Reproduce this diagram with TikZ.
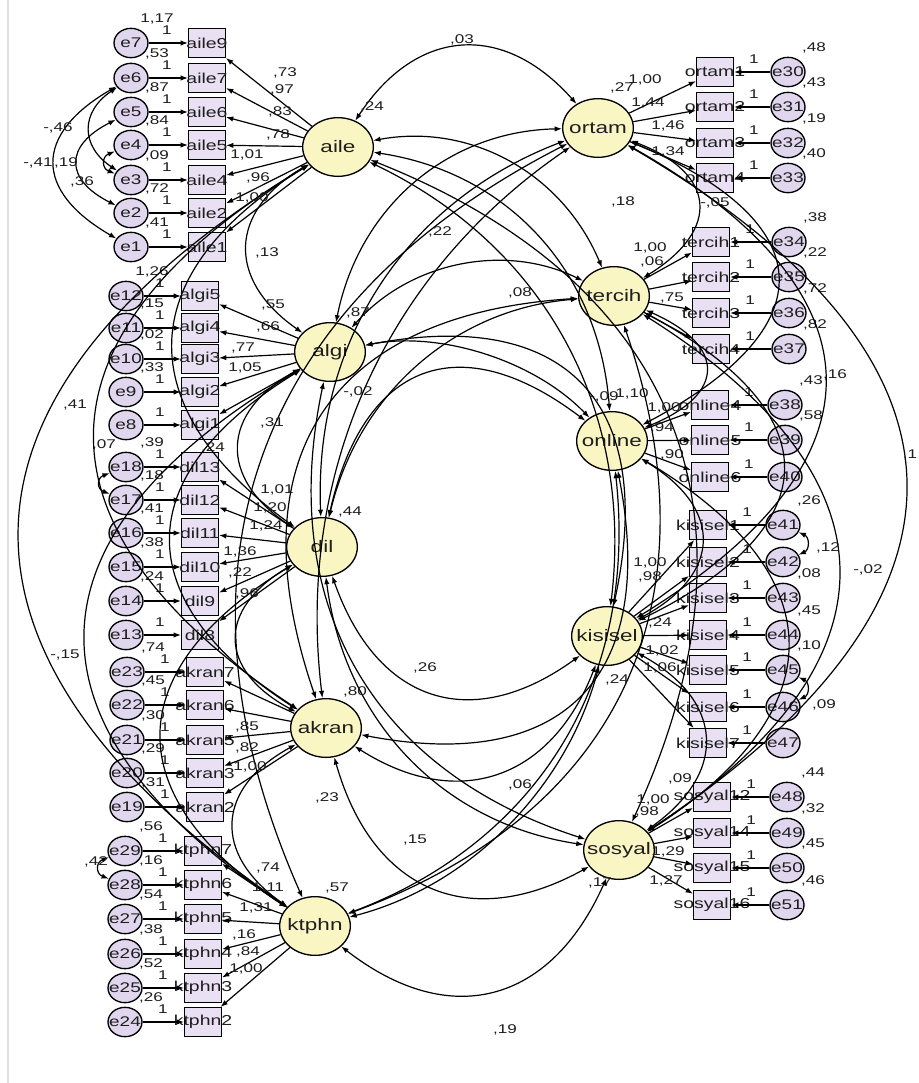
\documentclass[tikz,border=0pt]{standalone}
\usepackage{fontspec}
\setmainfont{Liberation Sans}
\newfontfamily\widesans[FakeStretch=1.35]{Liberation Sans}
\usetikzlibrary{shapes.geometric,arrows.meta,calc}
\definecolor{latfill}{RGB}{250,246,196}
\definecolor{obsfill}{RGB}{233,225,243}
\definecolor{errfill}{RGB}{224,214,238}
\definecolor{txt}{RGB}{30,30,30}
\newcommand\latfont{\widesans\fontsize{12.5}{13}\selectfont}
\newcommand\obsfont{\widesans\fontsize{10.8}{11}\selectfont}
\newcommand\errfont{\widesans\fontsize{10.5}{11}\selectfont}
\newcommand\estfont{\widesans\fontsize{9.5}{10}\selectfont}

% indicator on the left: error, box, y, x of error, x of box, error variance, latent
\newcommand\lind[7]{%
  \node[obs,label={[obslab]center:#2}] (#2) at (#5,#3) {};
  \node[err,label={[errlab]center:#1}] (#1) at (#4,#3) {};
  \draw[reg] (#1) -- (#2);
  \draw[reg] (#7) -- (#2);
  \node[est] at (#5-40,#3-13) {1};
  \node[est] at (#4+26,#3-24) {#6};
}
% indicator on the right
\newcommand\rind[7]{%
  \node[obs,label={[obslab]center:#2}] (#2) at (#5,#3) {};
  \node[err,label={[errlab]center:#1}] (#1) at (#4,#3) {};
  \draw[reg] (#1) -- (#2);
  \draw[reg] (#7) -- (#2);
  \node[est] at (#5+39,#3-13) {1};
  \node[est] at (#4+26,#3-24) {#6};
}
% covariance arc: from, to, bulge, side (90 = left of travel, -90 = right)
\newcommand\cv[4]{%
  \draw[cov] (#1) .. controls ($(#1)!1/3!(#2)!#3!#4:(#2)$) and ($(#1)!2/3!(#2)!#3!#4:(#2)$) .. (#2);
}

\begin{document}
\begin{tikzpicture}[x=0.75pt,y=-0.75pt,
  lat/.style={ellipse,draw,fill=latfill,minimum width=53pt,minimum height=44pt,inner sep=0pt,line width=1pt},
  obs/.style={rectangle,draw,fill=obsfill,minimum width=27.5pt,minimum height=21.5pt,inner sep=0pt,line width=1pt},
  err/.style={ellipse,draw,fill=errfill,minimum width=25.5pt,minimum height=22pt,inner sep=0pt,line width=1pt},
  latlab/.style={font=\latfont,text=txt,inner sep=0pt},
  obslab/.style={font=\obsfont,text=txt,inner sep=0pt},
  errlab/.style={font=\errfont,text=txt,inner sep=0pt},
  est/.style={font=\estfont,text=txt,inner sep=0pt},
  reg/.style={-{Latex[length=5.5pt,width=4pt]},line width=0.9pt},
  cov/.style={{Latex[length=5.5pt,width=4pt]}-{Latex[length=5.5pt,width=4pt]},line width=0.9pt}]

\fill[white] (0,0) rectangle (919,1083);
\useasboundingbox (0,0) rectangle (919,1083);
\draw[black!12,line width=0.8pt] (8,0) -- (8,1083);

% latent factors
\node[lat,label={[latlab]center:aile}]    (aile)    at (338,147) {};
\node[lat,label={[latlab]center:algi}]    (algi)    at (330,352) {};
\node[lat,label={[latlab]center:dil}]     (dil)     at (322,547) {};
\node[lat,label={[latlab]center:akran}]   (akran)   at (326,728) {};
\node[lat,label={[latlab]center:ktphn}]   (ktphn)   at (315,926) {};
\node[lat,label={[latlab]center:ortam}]   (ortam)   at (598,128) {};
\node[lat,label={[latlab]center:tercih}]  (tercih)  at (614,296) {};
\node[lat,label={[latlab]center:online}]  (online)  at (612,441) {};
\node[lat,label={[latlab]center:kisisel}] (kisisel) at (607,636) {};
\node[lat,label={[latlab]center:sosyal}]  (sosyal)  at (619,850) {};

% left indicators
\lind{e7}{aile9}{43}{131}{207}{1,17}{aile}
\lind{e6}{aile7}{78}{131}{207}{,53}{aile}
\lind{e5}{aile6}{112}{131}{207}{,87}{aile}
\lind{e4}{aile5}{145}{131}{207}{,84}{aile}
\lind{e3}{aile4}{180}{131}{207}{,09}{aile}
\lind{e2}{aile2}{213}{131}{207}{,72}{aile}
\lind{e1}{aile1}{247}{131}{207}{,41}{aile}

\lind{e12}{algi5}{296}{126}{200}{1,26}{algi}
\lind{e11}{algi4}{328}{126}{200}{,15}{algi}
\lind{e10}{algi3}{359}{126}{200}{,02}{algi}
\lind{e9}{algi2}{392}{126}{200}{,33}{algi}
\lind{e8}{algi1}{425}{126}{200}{}{algi}

\lind{e18}{dil13}{467}{126}{200}{,39}{dil}
\lind{e17}{dil12}{500}{126}{200}{,18}{dil}
\lind{e16}{dil11}{533}{126}{200}{,41}{dil}
\lind{e15}{dil10}{567}{126}{200}{,38}{dil}
\lind{e14}{dil9}{601}{126}{200}{,24}{dil}
\lind{e13}{dil8}{635}{126}{200}{}{dil}

\lind{e23}{akran7}{672}{127}{205}{,74}{akran}
\lind{e22}{akran6}{705}{127}{205}{,45}{akran}
\lind{e21}{akran5}{740}{127}{205}{,30}{akran}
\lind{e20}{akran3}{773}{127}{205}{,29}{akran}
\lind{e19}{akran2}{807}{127}{205}{,31}{akran}

\lind{e29}{ktphn7}{851}{125}{203}{,56}{ktphn}
\lind{e28}{ktphn6}{885}{125}{203}{,16}{ktphn}
\lind{e27}{ktphn5}{919}{125}{203}{,54}{ktphn}
\lind{e26}{ktphn4}{954}{125}{203}{,38}{ktphn}
\lind{e25}{ktphn3}{988}{125}{203}{,52}{ktphn}
\lind{e24}{ktphn2}{1022}{125}{203}{,26}{ktphn}

% right indicators
\rind{e30}{ortam1}{72}{788}{715}{,48}{ortam}
\rind{e31}{ortam2}{107}{788}{715}{,43}{ortam}
\rind{e32}{ortam3}{143}{788}{715}{,19}{ortam}
\rind{e33}{ortam4}{178}{788}{715}{,40}{ortam}

\rind{e34}{tercih1}{242}{789}{711}{,38}{tercih}
\rind{e35}{tercih2}{277}{789}{711}{,22}{tercih}
\rind{e36}{tercih3}{313}{789}{711}{,72}{tercih}
\rind{e37}{tercih4}{349}{789}{711}{,82}{tercih}

\rind{e38}{online4}{405}{785}{710}{,43}{online}
\rind{e39}{online5}{440}{785}{710}{,58}{online}
\rind{e40}{online6}{477}{785}{710}{}{online}

\rind{e41}{kisisel1}{525}{783}{708}{,26}{kisisel}
\rind{e42}{kisisel2}{562}{783}{708}{}{kisisel}
\rind{e43}{kisisel3}{598}{783}{708}{,08}{kisisel}
\rind{e44}{kisisel4}{635}{783}{708}{,45}{kisisel}
\rind{e45}{kisisel5}{670}{783}{708}{,10}{kisisel}
\rind{e46}{kisisel6}{707}{783}{708}{}{kisisel}
\rind{e47}{kisisel7}{743}{783}{708}{}{kisisel}

\rind{e48}{sosyal12}{797}{787}{712}{,44}{sosyal}
\rind{e49}{sosyal14}{833}{787}{712}{,32}{sosyal}
\rind{e50}{sosyal15}{868}{787}{712}{,45}{sosyal}
\rind{e51}{sosyal16}{905}{787}{712}{,46}{sosyal}

% error covariances
\cv{e6}{e1}{73pt}{-90}
\cv{e5}{e2}{50pt}{-90}
\cv{e6}{e3}{38pt}{-90}
\cv{e4}{e3}{22pt}{-90}
\cv{e18}{e17}{22pt}{-90}
\cv{e29}{e28}{22pt}{-90}
\cv{e41}{e42}{20pt}{90}
\cv{e45}{e46}{20pt}{90}

% factor covariances, left column
\cv{aile}{algi}{80pt}{-90}
\cv{algi}{dil}{80pt}{-90}
\cv{dil}{akran}{80pt}{-90}
\cv{akran}{ktphn}{80pt}{-90}
\cv{aile}{dil}{150pt}{-90}
\cv{algi}{akran}{150pt}{-90}
\cv{dil}{ktphn}{150pt}{-90}
\cv{aile}{akran}{230pt}{-90}
\cv{algi}{ktphn}{230pt}{-90}
\cv{aile}{ktphn}{300pt}{-90}

% factor covariances, right column
\cv{ortam}{tercih}{85pt}{90}
\cv{tercih}{online}{85pt}{90}
\cv{online}{kisisel}{85pt}{90}
\cv{kisisel}{sosyal}{85pt}{90}
\cv{ortam}{online}{165pt}{90}
\cv{tercih}{kisisel}{165pt}{90}
\cv{online}{sosyal}{165pt}{90}
\cv{ortam}{kisisel}{215pt}{90}
\cv{tercih}{sosyal}{215pt}{90}
\cv{ortam}{sosyal}{290pt}{90}

% factor covariances across
\cv{aile}{ortam}{85pt}{90}
\cv{aile}{tercih}{63pt}{90}
\cv{aile}{online}{80pt}{90}
\cv{aile}{kisisel}{100pt}{90}
\cv{aile}{sosyal}{200pt}{90}
\cv{algi}{ortam}{70pt}{90}
\cv{algi}{tercih}{55pt}{90}
\cv{algi}{online}{40pt}{90}
\cv{algi}{kisisel}{150pt}{90}
\cv{algi}{sosyal}{130pt}{-90}
\cv{dil}{ortam}{90pt}{90}
\cv{dil}{tercih}{70pt}{90}
\cv{dil}{online}{120pt}{90}
\cv{dil}{kisisel}{100pt}{-90}
\cv{dil}{sosyal}{80pt}{-90}
\cv{akran}{ortam}{100pt}{90}
\cv{akran}{tercih}{170pt}{90}
\cv{akran}{online}{150pt}{-90}
\cv{akran}{kisisel}{90pt}{-90}
\cv{akran}{sosyal}{100pt}{-90}
\cv{ktphn}{ortam}{200pt}{90}
\cv{ktphn}{tercih}{170pt}{-90}
\cv{ktphn}{online}{110pt}{-90}
\cv{ktphn}{kisisel}{60pt}{-90}
\cv{ktphn}{sosyal}{100pt}{-90}

% estimates
\foreach \x/\y/\t in {
  285/73/{,73}, 282/90/{,97}, 280/112/{,83}, 278/135/{,78}, 247/155/{1,01},
  258/178/{,96}, 252/198/{1,00}, 267/253/{,13}, 273/305/{,55}, 268/327/{,66},
  243/348/{,77}, 245/368/{1,05}, 272/423/{,31}, 213/448/{,24}, 277/490/{1,01},
  270/508/{1,20}, 266/526/{1,24}, 240/552/{1,36}, 240/573/{,22}, 247/594/{,96},
  247/727/{,85}, 247/748/{,82}, 250/767/{1,00}, 327/798/{,23}, 268/868/{,74},
  268/888/{1,11}, 256/908/{1,31}, 244/935/{,16}, 248/952/{,84}, 246/969/{1,00},
  462/40/{,03}, 372/107/{,24}, 622/88/{,27}, 358/313/{,87}, 350/512/{,44},
  355/692/{,80}, 337/888/{,57}, 440/232/{,22}, 520/293/{,08}, 358/392/{-,02},
  425/668/{,26}, 520/785/{,06}, 415/840/{,15}, 505/1030/{,19}, 75/405/{,41},
  65/655/{-,15}, 58/128/{-,46}, 38/163/{-,41}, 66/163/{,19}, 82/182/{,36},
  104/445/{,07}, 96/862/{,42},
  645/80/{1,00}, 648/103/{1,44}, 668/126/{1,46}, 668/152/{1,34}, 623/202/{,18},
  715/203/{-,05}, 650/248/{1,00}, 652/262/{,06}, 672/298/{,75}, 604/397/{-,09},
  632/394/{1,10}, 664/408/{1,00}, 662/428/{,94}, 672/455/{,90}, 835/375/{,16},
  828/548/{,12}, 650/563/{1,00}, 650/577/{,98}, 660/623/{,24}, 617/680/{,24},
  662/651/{1,02}, 660/668/{1,06}, 824/705/{,09}, 868/570/{-,02}, 910/455/{,1},
  680/779/{,09}, 653/800/{1,00}, 647/812/{,98}, 668/852/{1,29}, 666/881/{1,27},
  600/883/{,17}}
  \node[est] at (\x,\y) {\t};

\end{tikzpicture}
\end{document}
